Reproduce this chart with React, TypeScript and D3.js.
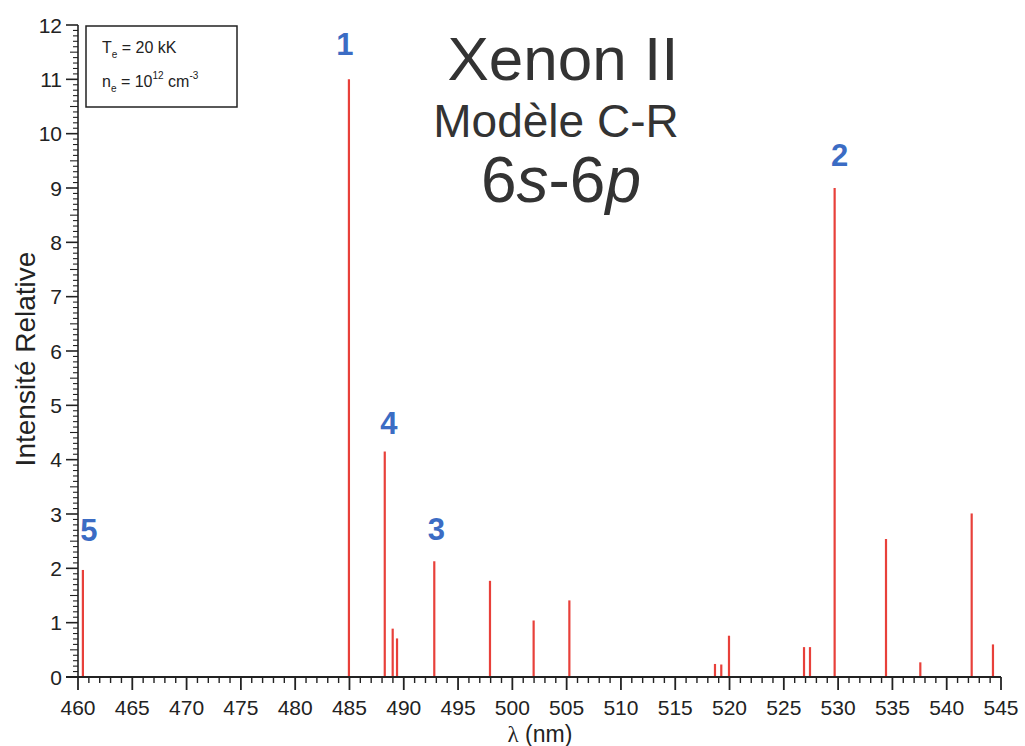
import React from "react";
import * as d3 from "d3";

// Xe II 6s-6p emission lines: wavelength (nm) and relative intensity
const wavelengths = [
  460.45, 484.95, 488.25, 488.98, 489.38, 492.81, 497.94, 501.96, 505.25,
  518.66, 519.24, 519.95, 526.86, 527.41, 529.68, 534.41, 537.57, 542.3, 544.26,
];
const intensities = [
  1.97, 11.0, 4.15, 0.89, 0.71, 2.13, 1.77, 1.04, 1.41,
  0.24, 0.23, 0.76, 0.55, 0.55, 9.0, 2.54, 0.27, 3.01, 0.6,
];

// numbered lines: label text and index of the line it marks
const labelTexts = ["1", "2", "3", "4", "5"];
const labelLineIndex = [1, 14, 5, 2, 0];
// small nudges so each number sits just above its line
const labelNudgeX = [-4, 5, 2, 4, 6];
const labelNudgeY = [-24, -22, -21, -18, -29];

const xTickValues = d3.range(460, 546, 5);
const yTickValues = d3.range(0, 13, 1);

const W = 1025;
const H = 746;
const X0 = 78;
const X1 = 1001;
const Y0 = 677;
const Y1 = 25;

const FONT = "'Liberation Sans', Arial, sans-serif";
const BLUE = "#3b6cc4";
const RED = "#e8403a";
const INK = "#222";

export default function App() {
  const x = d3.scaleLinear().domain([460, 545]).range([X0, X1]);
  const y = d3.scaleLinear().domain([0, 12]).range([Y0, Y1]);

  const xMinor = d3.range(460, 546, 1).filter((v) => v % 5 !== 0);
  const yMinor = d3.range(0, 120, 1).map((v) => v / 10).filter((v, i) => i % 10 !== 0);

  return (
    <svg
      width={W}
      height={H}
      style={{ position: "absolute", left: 0, top: 0, background: "#fff" }}
      fontFamily={FONT}
    >
      {/* spectral lines */}
      <g stroke={RED} strokeWidth={2.2}>
        {wavelengths.map((wl, i) => (
          <line key={i} x1={x(wl)} x2={x(wl)} y1={y(0)} y2={y(intensities[i])} />
        ))}
      </g>

      {/* y axis */}
      <g stroke={INK} strokeWidth={1.6}>
        <line x1={X0} x2={X0} y1={Y0} y2={Y1} />
        {yTickValues.map((v) => (
          <line key={"ym" + v} x1={X0 - 12} x2={X0} y1={y(v)} y2={y(v)} />
        ))}
        {yMinor.map((v, i) => (
          <line
            key={"yn" + i}
            x1={X0 - (Math.round(v * 10) % 5 === 0 ? 8 : 5)}
            x2={X0}
            y1={y(v)}
            y2={y(v)}
            strokeWidth={1.1}
          />
        ))}
      </g>
      <g fontSize={21} fill={INK} textAnchor="end">
        {yTickValues.map((v) => (
          <text key={"yl" + v} x={X0 - 16} y={y(v) + 7.5}>
            {v}
          </text>
        ))}
      </g>

      {/* x axis */}
      <g stroke={INK} strokeWidth={1.8}>
        <line x1={X0 - 12} x2={X1} y1={Y0} y2={Y0} />
        {xTickValues.map((v) => (
          <line key={"xm" + v} x1={x(v)} x2={x(v)} y1={Y0} y2={Y0 + 13} />
        ))}
        {xMinor.map((v) => (
          <line key={"xn" + v} x1={x(v)} x2={x(v)} y1={Y0} y2={Y0 + 6} strokeWidth={1.4} />
        ))}
      </g>
      <g fontSize={21} fill={INK} textAnchor="middle">
        {xTickValues.map((v) => (
          <text key={"xl" + v} x={x(v)} y={715}>
            {v}
          </text>
        ))}
      </g>

      {/* axis titles */}
      <text
        transform="translate(35,359) rotate(-90)"
        textAnchor="middle"
        fontSize={28}
        fill={INK}
      >
        Intensité Relative
      </text>
      <text x={540} y={742} textAnchor="middle" fontSize={23} fill={INK}>
        <tspan fontFamily="'Liberation Serif', serif">λ</tspan> (nm)
      </text>

      {/* plasma conditions box */}
      <rect x={86} y={26} width={151} height={81} fill="#fff" stroke={INK} strokeWidth={1.5} />
      <text x={102} y={53} fontSize={16} fill={INK}>
        T<tspan fontSize={10} dy={5}>e</tspan>
        <tspan dy={-5}> = 20 kK</tspan>
      </text>
      <text x={102} y={87} fontSize={16} fill={INK}>
        n<tspan fontSize={10} dy={5}>e</tspan>
        <tspan dy={-5}> = 10</tspan>
        <tspan fontSize={10} dy={-8}>12</tspan>
        <tspan dy={8}> cm</tspan>
        <tspan fontSize={10} dy={-8}>-3</tspan>
      </text>

      {/* title block */}
      <g fill="#333" textAnchor="middle">
        <text x={563} y={80} fontSize={62}>
          Xenon II
        </text>
        <text x={556} y={137} fontSize={46}>
          Modèle C-R
        </text>
        <text x={561} y={202} fontSize={64}>
          6<tspan fontStyle="italic">s</tspan>-6<tspan fontStyle="italic">p</tspan>
        </text>
      </g>

      {/* line numbers */}
      <g fill={BLUE} fontWeight="bold" fontSize={31} textAnchor="middle">
        {labelTexts.map((t, k) => {
          const i = labelLineIndex[k];
          return (
            <text
              key={"lab" + t}
              x={x(wavelengths[i]) + labelNudgeX[k]}
              y={y(intensities[i]) + labelNudgeY[k]}
            >
              {t}
            </text>
          );
        })}
      </g>
    </svg>
  );
}
